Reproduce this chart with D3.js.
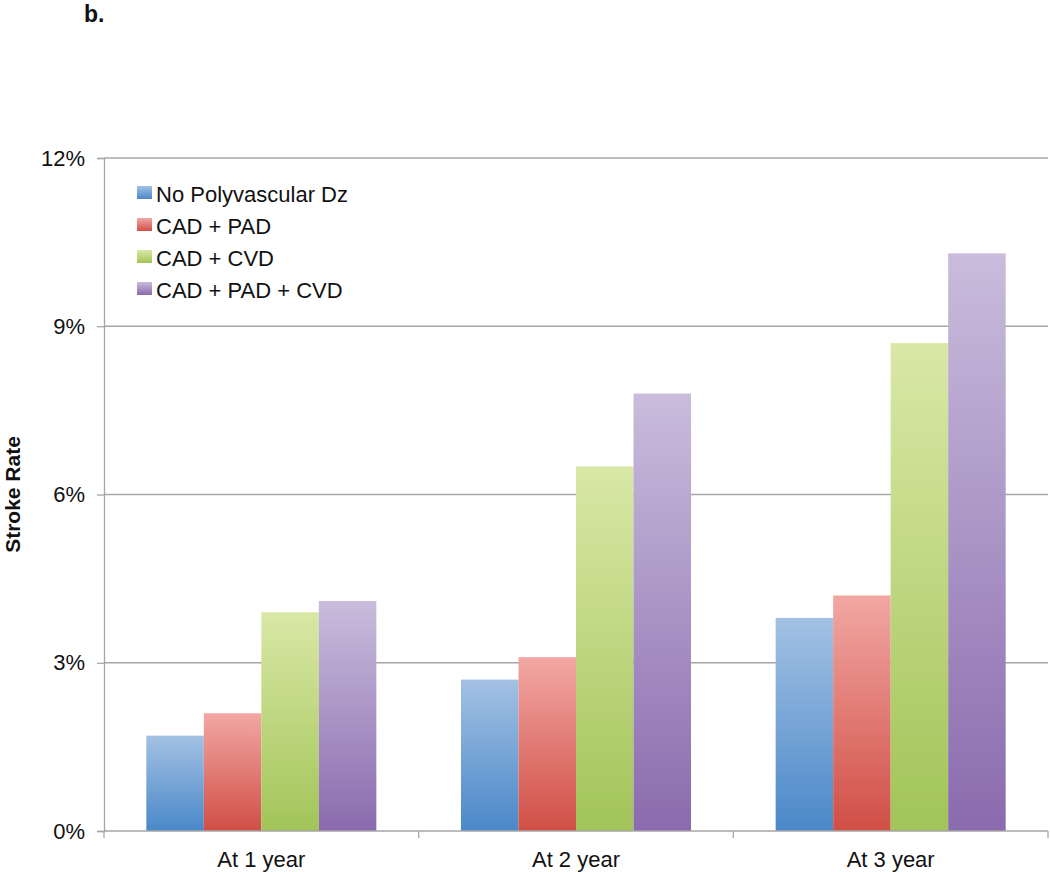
<!DOCTYPE html>
<html>
<head>
<meta charset="utf-8">
<script src="https://cdn.jsdelivr.net/npm/d3@7"></script>
<style>
  body { margin: 0; background: #fff; }
  svg { display: block; font-family: "Liberation Sans", Arial, sans-serif; }
</style>
</head>
<body>
<svg id="chart" width="1050" height="872"></svg>
<script>
const categories = ["At 1 year", "At 2 year", "At 3 year"];
const seriesNames = ["No Polyvascular Dz", "CAD + PAD", "CAD + CVD", "CAD + PAD + CVD"];
const noPolyvascular = [1.7, 2.7, 3.8];
const cadPad = [2.1, 3.1, 4.2];
const cadCvd = [3.9, 6.5, 8.7];
const cadPadCvd = [4.1, 7.8, 10.3];
const yTicks = [0, 3, 6, 9, 12];
const seriesValues = [noPolyvascular, cadPad, cadCvd, cadPadCvd];

const colorTop = ["#a3c1e3", "#f2a7a3", "#d9e8a6", "#c9bcdc"];
const colorBottom = ["#4a88c9", "#d04f46", "#a2c458", "#8a6bae"];

const svg = d3.select("#chart");
const margin = {left: 104, right: 2, top: 158, bottom: 41};
const W = 1050, H = 872;
const FONT = "Liberation Sans, Arial, sans-serif";

const defs = svg.append("defs");
seriesNames.forEach((s, i) => {
  const g = defs.append("linearGradient").attr("id", "grad" + i)
    .attr("x1", 0).attr("y1", 0).attr("x2", 0).attr("y2", 1);
  g.append("stop").attr("offset", "0%").attr("stop-color", colorTop[i]);
  g.append("stop").attr("offset", "100%").attr("stop-color", colorBottom[i]);
});

const x0 = d3.scaleBand().domain(categories).range([margin.left, W - margin.right]).paddingInner(0).paddingOuter(0);
const x1 = d3.scaleBand().domain(seriesNames).range([0, x0.bandwidth()]).paddingOuter(0.736).paddingInner(0);
const y = d3.scaleLinear().domain([0, 12]).range([H - margin.bottom, margin.top]);

// gridlines
svg.append("g").selectAll("line").data(yTicks.filter(d => d > 0)).join("line")
  .attr("x1", margin.left).attr("x2", W - margin.right)
  .attr("y1", d => y(d)).attr("y2", d => y(d))
  .attr("stroke", "#a6a6a6").attr("stroke-width", 1.3);

// bars
const groups = svg.append("g").selectAll("g").data(categories).join("g")
  .attr("transform", c => `translate(${x0(c)},0)`);
groups.selectAll("rect").data((c, ci) => seriesNames.map((s, si) => ({s, si, v: seriesValues[si][ci]})))
  .join("rect")
  .attr("x", d => x1(d.s)).attr("width", x1.bandwidth())
  .attr("y", d => y(d.v)).attr("height", d => y(0) - y(d.v))
  .attr("fill", d => `url(#grad${d.si})`);

// y axis
const yAxis = d3.axisLeft(y).tickValues(yTicks).tickFormat(d => d + "%").tickSize(7).tickPadding(12);
const ya = svg.append("g").attr("transform", `translate(${margin.left},0)`).call(yAxis);
ya.select(".domain").attr("stroke", "#a6a6a6").attr("stroke-width", 1.3);
ya.selectAll(".tick line").attr("stroke", "#a6a6a6").attr("stroke-width", 1.3);
ya.selectAll("text").attr("font-size", 22).attr("fill", "#111").attr("font-family", FONT);

// x axis
const xBoundaries = categories.map(c => x0(c)).concat([x0(categories[categories.length - 1]) + x0.bandwidth()]);
const xa = svg.append("g");
xa.append("line").attr("x1", margin.left).attr("x2", W - margin.right)
  .attr("y1", y(0)).attr("y2", y(0)).attr("stroke", "#a6a6a6").attr("stroke-width", 1.3);
xa.selectAll("line.tk").data(xBoundaries).join("line").attr("class", "tk")
  .attr("x1", d => d).attr("x2", d => d).attr("y1", y(0)).attr("y2", y(0) + 7)
  .attr("stroke", "#a6a6a6").attr("stroke-width", 1.3);
xa.selectAll("text").data(categories).join("text")
  .attr("x", c => x0(c) + x0.bandwidth() / 2).attr("y", y(0) + 35.5)
  .attr("text-anchor", "middle").attr("font-size", 22).attr("fill", "#111")
  .text(c => c);

// y title
svg.append("text").attr("transform", `translate(20,${(y(0) + y(12)) / 2}) rotate(-90)`)
  .attr("text-anchor", "middle").attr("font-size", 21).attr("font-weight", "bold").attr("fill", "#111")
  .text("Stroke Rate");

// panel label
svg.append("text").attr("x", 84).attr("y", 22).attr("font-size", 23).attr("font-weight", "bold")
  .attr("fill", "#111").text("b.");

// legend
const leg = svg.append("g").attr("transform", "translate(137,186)");
const li = leg.selectAll("g").data(seriesNames).join("g").attr("transform", (d, i) => `translate(0,${i * 32})`);
li.append("rect").attr("x", 0).attr("y", 0).attr("width", 15).attr("height", 13)
  .attr("fill", (d, i) => `url(#grad${i})`);
li.append("text").attr("x", 19).attr("y", 15.7).attr("font-size", 22).attr("fill", "#111").text(d => d);
</script>
</body>
</html>
